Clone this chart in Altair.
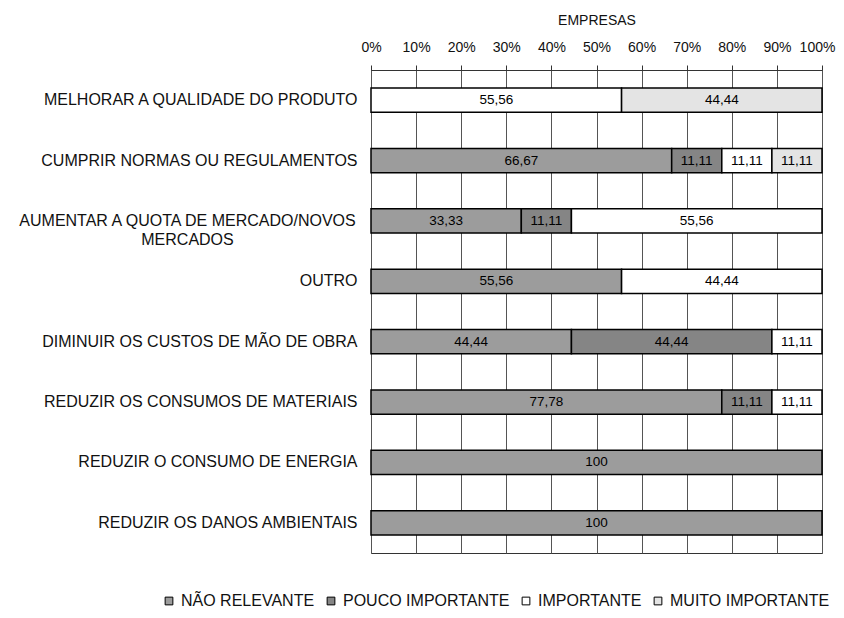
import altair as alt
import pandas as pd

categories = [
    "MELHORAR A QUALIDADE DO PRODUTO",
    "CUMPRIR NORMAS OU REGULAMENTOS",
    "AUMENTAR A QUOTA DE MERCADO/NOVOS MERCADOS",
    "OUTRO",
    "DIMINUIR OS CUSTOS DE MÃO DE OBRA",
    "REDUZIR OS CONSUMOS DE MATERIAIS",
    "REDUZIR O CONSUMO DE ENERGIA",
    "REDUZIR OS DANOS AMBIENTAIS",
]
series_names = ["NÃO RELEVANTE", "POUCO IMPORTANTE", "IMPORTANTE", "MUITO IMPORTANTE"]
nao_relevante = [0, 66.67, 33.33, 55.56, 44.44, 77.78, 100, 100]
pouco_importante = [0, 11.11, 11.11, 0, 44.44, 11.11, 0, 0]
importante = [55.56, 11.11, 55.56, 44.44, 11.11, 11.11, 0, 0]
muito_importante = [44.44, 11.11, 0, 0, 0, 0, 0, 0]
colors = ["#9c9c9c", "#858585", "#ffffff", "#e4e4e4"]

rows = []
for si, (name, vals) in enumerate(zip(series_names, [nao_relevante, pouco_importante, importante, muito_importante])):
    for cat, v in zip(categories, vals):
        if v > 0:
            lab = "100" if v == 100 else f"{v:.2f}".replace(".", ",")
            rows.append({"cat": cat, "serie": name, "ord": si, "v": v, "lab": lab})
df = pd.DataFrame(rows)

FONT = "Liberation Sans"
LONG = "AUMENTAR A QUOTA DE MERCADO/NOVOS MERCADOS"
label_expr = (
    "datum.label == '" + LONG + "' ? "
    "['AUMENTAR A QUOTA DE MERCADO/NOVOS', 'MERCADOS'] : datum.label"
)
test = "datum.label == '" + LONG + "'"

base = alt.Chart(df).transform_stack(
    stack="v", groupby=["cat"], as_=["x0", "x1"],
    sort=[alt.SortField("ord", order="ascending")], offset="normalize"
).transform_calculate(xm="(datum.x0 + datum.x1) / 2")

yenc = alt.Y(
    "cat:N", sort=categories, title=None,
    scale=alt.Scale(paddingInner=0.6, paddingOuter=0.3),
    axis=alt.Axis(domain=False, ticks=False,
                  labelPadding={"condition": {"test": test, "value": 184}, "value": 14},
                  labelAlign={"condition": {"test": test, "value": "center"}, "value": "right"},
                  labelFontSize=16,
                  labelFont=FONT, labelColor="#111", labelLimit=400,
                  labelLineHeight=19, labelExpr=label_expr),
)

bars = base.mark_bar(stroke="black", strokeWidth=1.5).encode(
    x=alt.X("x0:Q", title="EMPRESAS",
            scale=alt.Scale(domain=[0, 1], nice=False),
            axis=alt.Axis(orient="top", format="%", values=[i / 10 for i in range(11)],
                          labelFontSize=14, labelFont=FONT, labelColor="#111",
                          labelOverlap=False, labelFlush=False,
                          labelOffset={"condition": {"test": "datum.value >= 1", "value": -5}, "value": 0},
                          labelPadding=11, tickSize=5, tickColor="#333",
                          domainColor="#333", gridColor="#555", gridWidth=1,
                          titleFont=FONT, titleFontSize=14, titleFontWeight="normal",
                          titleColor="#111", titlePadding=13)),
    x2="x1:Q",
    y=yenc,
    fill=alt.Fill("serie:N", scale=alt.Scale(domain=series_names, range=colors),
                  legend=alt.Legend(title=None, orient="none", direction="horizontal",
                                    legendX=-210, legendY=523, symbolType="square",
                                    symbolSize=60, symbolStrokeColor="black",
                                    symbolStrokeWidth=1, labelFont=FONT,
                                    labelFontSize=16, labelColor="#111", labelLimit=400,
                                    columnPadding=8, symbolOffset=0, labelOffset=4)),
)

texts = base.mark_text(font=FONT, fontSize=13.5, color="black").encode(
    x="xm:Q", y=alt.Y("cat:N", sort=categories), text="lab:N"
)

chart = (bars + texts).properties(
    width=451, height=483,
    autosize=alt.AutoSizeParams(type="none"),
    padding={"left": 363, "top": 62, "right": 14, "bottom": 57},
).configure_view(stroke="#333", strokeWidth=1)

chart.save("out.html", embed_options={"renderer": "svg", "actions": False})
